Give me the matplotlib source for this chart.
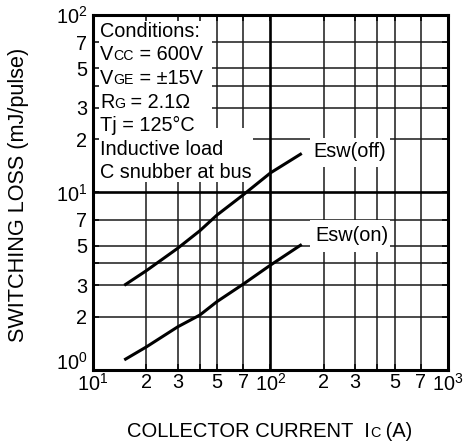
import matplotlib
matplotlib.use('Agg')
import matplotlib.pyplot as plt
from matplotlib.patches import Rectangle

plt.rcParams['font.family'] = ['Liberation Sans', 'DejaVu Sans']
plt.rcParams['mathtext.fontset'] = 'custom'
plt.rcParams['mathtext.rm'] = 'Liberation Sans'
plt.rcParams['mathtext.it'] = 'Liberation Sans'
plt.rcParams['mathtext.bf'] = 'Liberation Sans'

W, H, DPI = 464, 444, 100

# ---- data ----
current_off = [15, 20, 30, 40, 50, 70, 100, 150]
esw_off = [3.0, 3.63, 4.85, 6.09, 7.47, 9.68, 12.9, 16.6]
current_on = [15, 20, 30, 40, 50, 70, 100, 150]
esw_on = [1.14, 1.35, 1.75, 2.04, 2.43, 3.04, 3.9, 5.1]

x_major = [10, 100, 1000]
x_major_labels = [r'$\mathregular{10^{1}}$', r'$\mathregular{10^{2}}$', r'$\mathregular{10^{3}}$']
x_minor = [20, 30, 40, 50, 70, 200, 300, 400, 500, 700]
x_minor_labels = ['2', '3', '', '5', '7', '2', '3', '', '5', '7']
y_major = [1, 10, 100]
y_major_labels = [r'$\mathregular{10^{0}}$', r'$\mathregular{10^{1}}$', r'$\mathregular{10^{2}}$']
y_minor = [2, 3, 4, 5, 7, 20, 30, 40, 50, 70]
y_minor_labels = ['2', '3', '', '5', '7', '2', '3', '', '5', '7']

FS = 14.3
conditions = [
    [("Conditions:", FS)],
    [("V", FS), ("CC", 10.2), (" = 600V", FS)],
    [("V", FS), ("GE", 10.2), (" = \u00b115V", FS)],
    [("R", FS), ("G", 10.2), (" = 2.1\u03a9", FS)],
    [("Tj = 125\u00b0C", FS)],
    [("Inductive load", FS)],
    [("C snubber at bus", FS)],
]
xlabel_parts = [("COLLECTOR CURRENT  I", 14.5), ("C", 10.4), (" (A)", 14.5)]
ylabel = "SWITCHING LOSS (mJ/pulse)"

fig = plt.figure(figsize=(W / DPI, H / DPI), dpi=DPI)
ax = fig.add_axes([93 / W, 1 - 370 / H, 355 / W, 355 / H])
ax.set_xscale('log')
ax.set_yscale('log')
ax.set_xlim(10, 1000)
ax.set_ylim(1, 100)
ax.set_axisbelow(False)

for v in x_minor:
    ax.axvline(v, color='#1a1a1a', lw=1.1, zorder=1)
for v in y_minor:
    ax.axhline(v, color='#1a1a1a', lw=1.1, zorder=1)
ax.axvline(100, color='k', lw=1.9, zorder=1)
ax.axhline(10, color='k', lw=1.9, zorder=1)

ax.set_xticks(x_major)
ax.set_xticklabels(x_major_labels)
ax.set_xticks(x_minor, minor=True)
ax.set_xticklabels(x_minor_labels, minor=True)
ax.set_yticks(y_major)
ax.set_yticklabels(y_major_labels)
ax.set_yticks(y_minor, minor=True)
ax.set_yticklabels(y_minor_labels, minor=True)
ax.tick_params(which='both', direction='in', top=True, right=True,
               length=4, width=1.1, labelsize=FS, colors='k')
ax.tick_params(axis='x', which='both', pad=2)
ax.tick_params(axis='y', which='both', pad=4)
for s in ax.spines.values():
    s.set_linewidth(2.2)
ax.yaxis.get_major_ticks()[0].label1.set_verticalalignment('baseline')

# white label backgrounds (pixel boxes)
def white_box(x0, y0, x1, y1):
    ax.add_artist(Rectangle((x0 / W, 1 - y1 / H), (x1 - x0) / W, (y1 - y0) / H,
                            transform=fig.transFigure, facecolor='white',
                            edgecolor='none', zorder=2))

white_box(93, 15, 212, 128)
white_box(93, 128, 253, 182)
white_box(310, 138, 390, 167)
white_box(310, 220, 390, 252)

ax.plot(current_off, esw_off, color='k', lw=2.2, zorder=2.2,
        solid_capstyle='butt')
ax.plot(current_on, esw_on, color='k', lw=2.2, zorder=2.2,
        solid_capstyle='butt')

renderer = fig.canvas.get_renderer()

def runs(x, y, parts, ha='left'):
    items = []
    total = 0
    for s, size in parts:
        t = fig.text(0, 0, s, fontsize=size, va='baseline', ha='left',
                     zorder=3, color='k')
        w = t.get_window_extent(renderer).width
        items.append((t, w))
        total += w
    cur = x - total / 2 if ha == 'center' else x
    for t, w in items:
        t.set_position((cur / W, 1 - y / H))
        cur += w

baselines = [37, 60.5, 84, 107.5, 131, 154.5, 178]
for parts, yb in zip(conditions, baselines):
    runs(100, yb, parts)

runs(313, 157, [("Esw(off)", FS)])
runs(315, 241, [("Esw(on)", FS)])
runs(270, 437, xlabel_parts, ha='center')
fig.text(19 / W, 1 - 195 / H, ylabel, rotation=90, va='center',
         ha='center', fontsize=15.6, color='k')

fig.savefig('out.png', dpi=DPI)
